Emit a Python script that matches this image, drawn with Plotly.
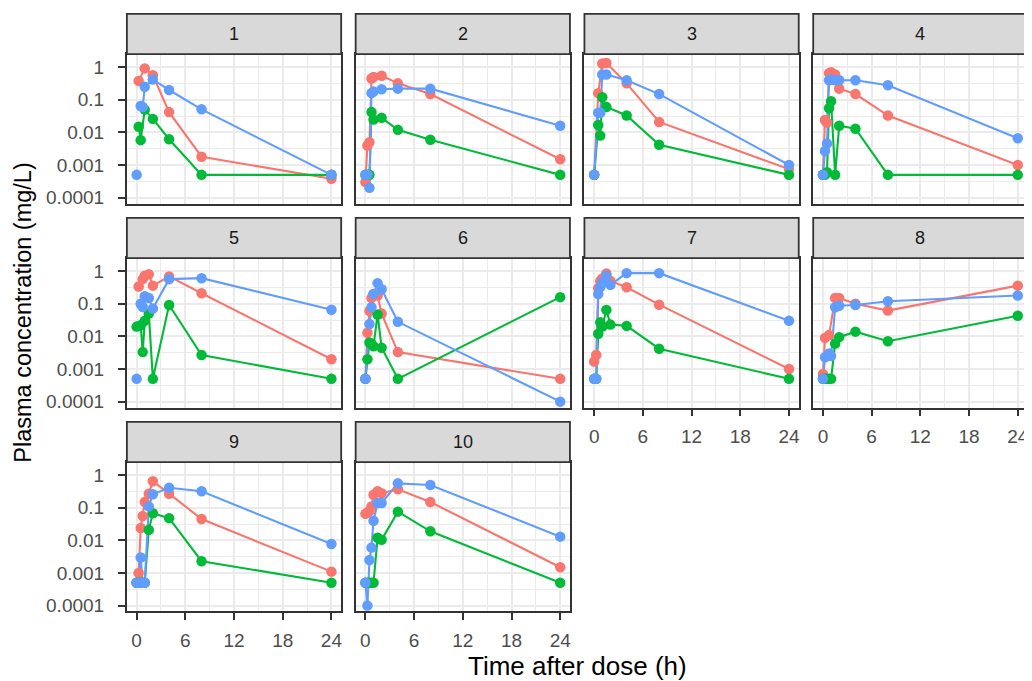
import plotly.graph_objects as go

# ---------------- data ----------------
TIME = [0, 0.25, 0.5, 0.75, 1, 1.5, 2, 4, 8, 24]
PANELS = ["1", "2", "3", "4", "5", "6", "7", "8", "9", "10"]
N = None      # no sample at this time (line continues)
NA = "NA"     # missing value (line is broken)

RED = [
    [N, 0.38, N, N, 0.92, N, 0.57, 0.042, 0.0018, 0.00038],
    [0.0003, 0.004, 0.005, 0.45, 0.5, N, 0.55, 0.32, 0.15, 0.0015],
    [0.0005, N, 0.16, N, 1.3, 1.35, N, 0.32, 0.021, 0.00075],
    [0.0005, 0.024, 0.02, 0.65, 0.7, 0.6, 0.22, 0.15, 0.033, 0.001],
    [N, 0.34, N, 0.57, 0.72, 0.8, 0.36, 0.69, 0.21, 0.002],
    [0.0005, 0.013, 0.06, 0.15, 0.2, 0.18, 0.05, 0.0033, N, 0.0005],
    [0.0017, 0.0027, 0.3, 0.5, 0.6, 0.85, 0.5, 0.32, 0.094, 0.001],
    [0.0007, 0.009, N, 0.011, N, 0.15, 0.15, 0.1, 0.062, 0.36],
    [0.0005, 0.001, 0.024, 0.056, 0.15, 0.27, 0.65, 0.27, 0.045, 0.0011],
    [0.065, 0.07, 0.08, 0.11, 0.25, 0.32, 0.28, 0.37, 0.15, 0.0015],
]
GREEN = [
    [N, 0.015, 0.0058, N, 0.05, N, 0.026, 0.0062, 0.0005, 0.0005],
    [0.0005, 0.0005, 0.0005, 0.042, 0.025, N, 0.028, 0.012, 0.006, 0.0005],
    [0.0005, N, 0.017, 0.008, 0.12, 0.06, N, 0.033, 0.0042, 0.0005],
    [0.0005, 0.0005, 0.0006, 0.055, 0.09, 0.0005, 0.016, 0.013, 0.0005, 0.0005],
    [0.02, N, 0.022, 0.0033, 0.03, 0.05, 0.0005, 0.092, 0.0027, 0.0005],
    [0.0005, 0.002, 0.0065, 0.006, 0.005, 0.047, 0.0045, 0.0005, N, 0.16],
    [0.0005, 0.0005, 0.012, 0.027, 0.02, 0.065, 0.023, 0.021, 0.0042, 0.0005],
    [0.0005, 0.0005, 0.0005, 0.0005, 0.0005, 0.006, 0.0095, 0.014, 0.0071, 0.043],
    [0.0005, 0.0005, 0.0005, 0.0005, 0.0005, 0.021, 0.068, 0.048, 0.0023, 0.0005],
    [0.0005, 0.0005, 0.0005, 0.0005, 0.0005, 0.012, 0.0104, 0.076, 0.019, 0.0005],
]
BLUE = [
    [0.0005, NA, 0.065, 0.06, 0.25, N, 0.42, 0.2, 0.051, 0.0005],
    [0.0005, 0.0005, 0.0002, 0.16, 0.18, N, 0.21, 0.22, 0.22, 0.016],
    [0.0005, N, 0.04, 0.04, 0.6, 0.6, N, 0.4, 0.15, 0.001],
    [0.0005, 0.0027, 0.0046, 0.4, 0.42, 0.4, 0.4, 0.4, 0.28, 0.0066],
    [0.0005, NA, 0.1, 0.08, 0.17, 0.15, 0.072, 0.57, 0.61, 0.066],
    [0.0005, N, 0.024, 0.078, 0.2, 0.43, 0.28, 0.028, N, 0.0001],
    [0.0005, 0.0005, 0.2, 0.32, 0.45, 0.72, 0.38, 0.87, 0.87, 0.03],
    [0.0005, 0.0023, N, 0.003, 0.0025, 0.078, 0.087, 0.092, 0.12, 0.18],
    [0.0005, 0.0005, 0.003, 0.0005, 0.0005, 0.11, 0.26, 0.41, 0.32, 0.0077],
    [0.0005, 0.0001, 0.0025, 0.006, 0.04, 0.14, 0.14, 0.56, 0.5, 0.013],
]
SERIES = [RED, GREEN, BLUE]
COLORS = ["#F8766D", "#00BA38", "#619CFF"]

Y_TICKS = [0.0001, 0.001, 0.01, 0.1, 1]
Y_TICK_LABELS = ["0.0001", "0.001", "0.01", "0.1", "1"]
Y_MINOR = [10 ** -3.5, 10 ** -2.5, 10 ** -1.5, 10 ** -0.5]
X_TICKS = [0, 6, 12, 18, 24]
X_MINOR = [3, 9, 15, 21]
X_TITLE = "Time after dose (h)"
Y_TITLE = "Plasma concentration (mg/L)"

# ---------------- layout geometry (page pixels) ----------------
OFF = 8                      # default body margin of the html page
W, H = 1032 - OFF, 681 - OFF  # figure size
COL_LEFT, COL_STEP, PANEL_W = 127, 229, 214.5
ROW_TOP, ROW_STEP, STRIP_H, PANEL_H = 14, 205.5, 40.5, 191
FONT = "Liberation Sans, Arial, Helvetica, sans-serif"
DARK = "#333333"
GRID = "#EBEBEB"
TICK_FONT = dict(family=FONT, size=19, color="#4D4D4D")


def px(xp):
    return (xp - OFF) / W


def py(yp):
    return 1 - (yp - OFF) / H


def clean(vals):
    xs, ys = [], []
    for t, v in zip(TIME, vals):
        if v is None:
            continue
        if v == NA:
            xs.append(None)
            ys.append(None)
        else:
            xs.append(t)
            ys.append(v)
    return xs, ys


fig = go.Figure()
layout = {}
shapes = []
annotations = []

for i, name in enumerate(PANELS):
    r, c = divmod(i, 4)
    x0 = COL_LEFT + c * COL_STEP
    x1 = x0 + PANEL_W
    top = ROW_TOP + r * ROW_STEP
    sb = top + STRIP_H
    bot = top + PANEL_H
    show_x = i >= 6
    show_y = c == 0
    k = "" if i == 0 else str(i + 1)

    layout["xaxis" + k] = dict(
        domain=[px(x0), px(x1)], anchor="y" + k, range=[-1.2, 25.2],
        tickmode="array", tickvals=X_TICKS, showticklabels=show_x,
        ticks="outside" if show_x else "", ticklen=7, tickwidth=1.8, tickcolor=DARK,
        ticklabelstandoff=4,
        tickfont=TICK_FONT, showgrid=True, gridcolor=GRID, gridwidth=1.6,
        minor=dict(tickmode="array", tickvals=X_MINOR, showgrid=True,
                   gridcolor=GRID, gridwidth=0.8, ticks=""),
        showline=True, mirror=True, linecolor=DARK, linewidth=1.8,
        zeroline=False, fixedrange=True,
    )
    layout["yaxis" + k] = dict(
        domain=[py(bot), py(sb)], anchor="x" + k, type="log",
        range=[-4.18, 0.40], tickmode="array", tickvals=Y_TICKS,
        ticktext=Y_TICK_LABELS, showticklabels=show_y,
        ticks="outside" if show_y else "", ticklen=7, tickwidth=1.8, tickcolor=DARK,
        ticklabelstandoff=10,
        tickfont=TICK_FONT, showgrid=True, gridcolor=GRID, gridwidth=1.6,
        minor=dict(tickmode="array", tickvals=Y_MINOR, showgrid=True,
                   gridcolor=GRID, gridwidth=0.8, ticks=""),
        showline=True, mirror=True, linecolor=DARK, linewidth=1.8,
        zeroline=False, fixedrange=True,
    )

    shapes.append(dict(type="rect", xref="paper", yref="paper",
                       x0=px(x0), x1=px(x1), y0=py(sb), y1=py(top),
                       fillcolor="#D9D9D9", line=dict(color=DARK, width=1.8),
                       layer="above"))
    annotations.append(dict(text=name, xref="paper", yref="paper",
                            x=px((x0 + x1) / 2), y=py((top + sb) / 2),
                            showarrow=False, xanchor="center", yanchor="middle",
                            font=dict(family=FONT, size=18, color="#1A1A1A")))

    # lines first, then points (as ggplot geom_line + geom_point)
    for s, col in zip(SERIES, COLORS):
        xs, ys = clean(s[i])
        fig.add_trace(go.Scatter(x=xs, y=ys, mode="lines", xaxis="x" + k, yaxis="y" + k,
                                 line=dict(color=col, width=2.1), connectgaps=False,
                                 hoverinfo="skip", showlegend=False))
    for s, col in zip(SERIES, COLORS):
        xs, ys = clean(s[i])
        fig.add_trace(go.Scatter(x=xs, y=ys, mode="markers", xaxis="x" + k, yaxis="y" + k,
                                 marker=dict(color=col, size=10.5, line=dict(width=0)),
                                 hoverinfo="skip", showlegend=False))

annotations.append(dict(text=X_TITLE, xref="paper", yref="paper",
                        x=px((COL_LEFT + COL_LEFT + 3 * COL_STEP + PANEL_W) / 2),
                        y=py(671), showarrow=False, xanchor="center", yanchor="middle",
                        font=dict(family=FONT, size=26, color="#000000")))
annotations.append(dict(text=Y_TITLE, xref="paper", yref="paper",
                        x=px(23), y=py(315), textangle=-90, showarrow=False,
                        xanchor="center", yanchor="middle",
                        font=dict(family=FONT, size=23.5, color="#000000")))

fig.update_layout(
    width=W, height=H, margin=dict(l=0, r=0, t=0, b=0),
    paper_bgcolor="white", plot_bgcolor="white",
    showlegend=False, hovermode=False,
    shapes=shapes, annotations=annotations,
    **layout,
)

fig.write_html("out.html", config={"displayModeBar": False})
